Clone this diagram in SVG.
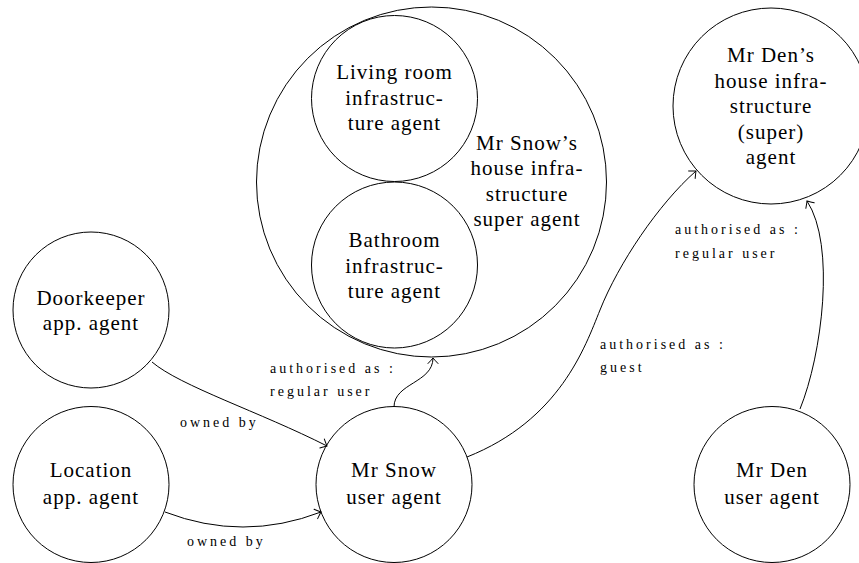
<svg xmlns="http://www.w3.org/2000/svg" width="859" height="563" viewBox="0 0 859 563">
  <style>
    .node { fill: none; stroke: #000; stroke-width: 1; }
    .name { font-family: "Liberation Serif", "Times New Roman", serif; font-size: 21px; letter-spacing: 1px; text-anchor: middle; fill: #000; }
    .edge { fill: none; stroke: #000; stroke-width: 1; marker-end: url(#tip); }
    .lbl { font-family: "Liberation Serif", "Times New Roman", serif; font-size: 14px; letter-spacing: 3px; fill: #000; }
  </style>
  <defs>
    <!-- open "to"-style arrow tip -->
    <marker id="tip" markerUnits="userSpaceOnUse" markerWidth="14" markerHeight="14" viewBox="-8 -7 10 14" refX="0" refY="0" orient="auto">
      <path d="M -5.5,-5 Q -1.5,-1.2 0,0 Q -1.5,1.2 -5.5,5" fill="none" stroke="#000" stroke-width="1" stroke-linecap="round"/>
    </marker>
  </defs>
  <rect width="859" height="563" fill="#fff"/>

  <!-- house infrastructure super agent with its two room agents -->
  <g id="snow-house">
    <circle class="node" cx="431.5" cy="182" r="175"/>
    <text class="name" x="527" y="149.5">Mr Snow’s</text>
    <text class="name" x="527" y="175">house infra-</text>
    <text class="name" x="527" y="200.5">structure</text>
    <text class="name" x="527" y="226">super agent</text>
  </g>
  <g id="living-room">
    <circle class="node" cx="394.5" cy="98.5" r="83"/>
    <text class="name" x="394.5" y="79">Living room</text>
    <text class="name" x="394.5" y="104.5">infrastruc-</text>
    <text class="name" x="394.5" y="130">ture agent</text>
  </g>
  <g id="bathroom">
    <circle class="node" cx="394.5" cy="265" r="83"/>
    <text class="name" x="394.5" y="247">Bathroom</text>
    <text class="name" x="394.5" y="272.5">infrastruc-</text>
    <text class="name" x="394.5" y="298">ture agent</text>
  </g>

  <g id="den-house">
    <circle class="node" cx="771" cy="106" r="98"/>
    <text class="name" x="771" y="62">Mr Den’s</text>
    <text class="name" x="771" y="87.5">house infra-</text>
    <text class="name" x="771" y="113">structure</text>
    <text class="name" x="771" y="138.5">(super)</text>
    <text class="name" x="771" y="164">agent</text>
  </g>

  <g id="doorkeeper">
    <circle class="node" cx="91" cy="310" r="78"/>
    <text class="name" x="91" y="304.5">Doorkeeper</text>
    <text class="name" x="91" y="330">app. agent</text>
  </g>
  <g id="location">
    <circle class="node" cx="91" cy="484.5" r="78"/>
    <text class="name" x="91" y="477">Location</text>
    <text class="name" x="91" y="503.5">app. agent</text>
  </g>
  <g id="snow-user">
    <circle class="node" cx="394" cy="484.5" r="78"/>
    <text class="name" x="394" y="477">Mr Snow</text>
    <text class="name" x="394" y="503.5">user agent</text>
  </g>
  <g id="den-user">
    <circle class="node" cx="772" cy="484.5" r="78"/>
    <text class="name" x="772" y="477">Mr Den</text>
    <text class="name" x="772" y="503.5">user agent</text>
  </g>

  <!-- connectors -->
  <g id="edges">
    <path class="edge" d="M 152,362 C 180,386 260,412 327,446"/>
    <path class="edge" d="M 165,512 Q 243,542 321,512"/>
    <path class="edge" d="M 394,407 C 394,383 433,383 433,358"/>
    <path class="edge" d="M 467,457 C 560,420 585,347 600,310 C 618.5,263.5 658.5,204 696,171"/>
    <path class="edge" d="M 800,409 C 822,355 836,245 807,201"/>
  </g>

  <!-- connector labels -->
  <g id="labels">
    <text class="lbl" x="180" y="427">owned by</text>
    <text class="lbl" x="187" y="546">owned by</text>
    <text class="lbl" x="270" y="372.5">authorised as :</text>
    <text class="lbl" x="270" y="396">regular user</text>
    <text class="lbl" x="600" y="348.5">authorised as :</text>
    <text class="lbl" x="600" y="372">guest</text>
    <text class="lbl" x="675" y="234">authorised as :</text>
    <text class="lbl" x="675" y="258">regular user</text>
  </g>
</svg>
